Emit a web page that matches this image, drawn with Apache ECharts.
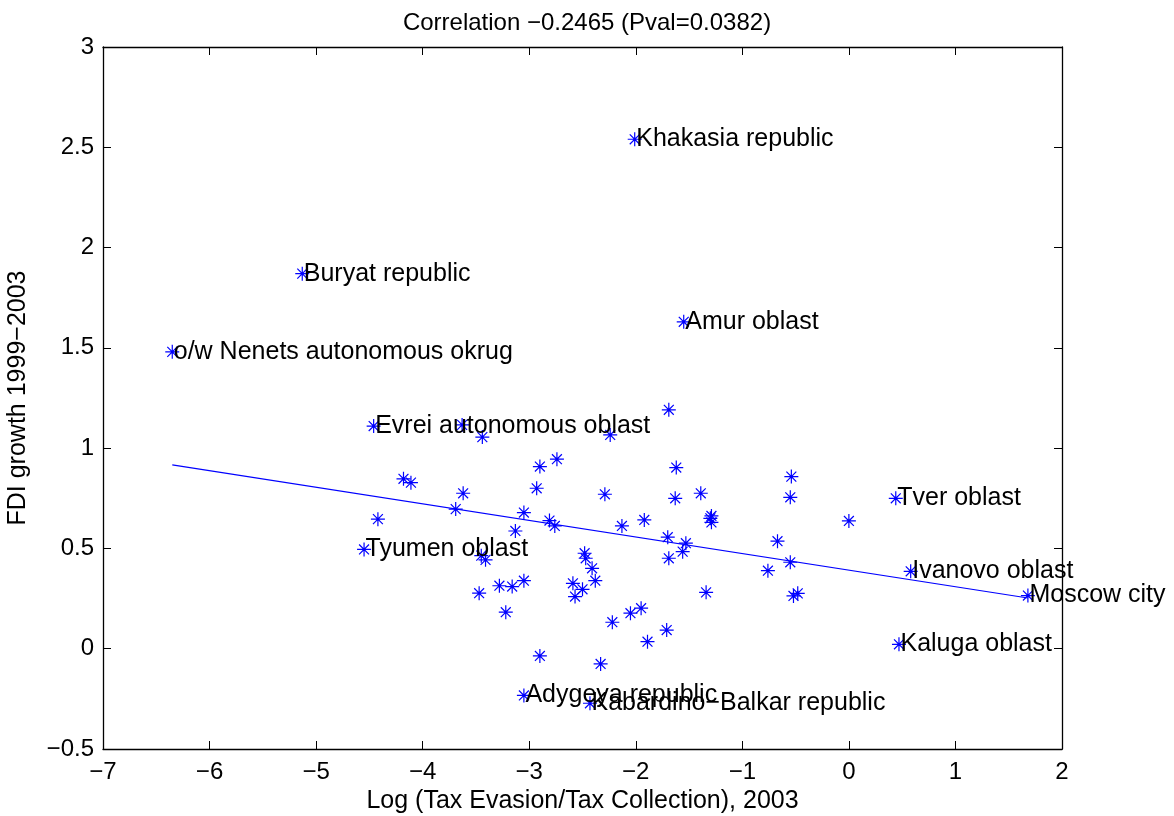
<!DOCTYPE html>
<html>
<head>
<meta charset="utf-8">
<script src="https://cdn.jsdelivr.net/npm/echarts@6/dist/echarts.min.js"></script>
<style>
	html, body { margin: 0; padding: 0; background: #fff; }
	#chart { width: 1174px; height: 816px; }
</style>
</head>
<body>
<div id="chart"></div>
<script>
// labelled regions
var labelNames = ['Khakasia republic', 'Buryat republic', 'Amur oblast', 'o/w Nenets autonomous okrug',
	'Evrei autonomous oblast', 'Tyumen oblast', 'Tver oblast', 'Ivanovo oblast', 'Moscow city',
	'Kaluga oblast', 'Adygeya republic', 'Kabardino\u2212Balkar republic'];
var labelX = [-2.01, -5.13, -1.55, -6.35, -4.46, -4.55, 0.44, 0.58, 1.68, 0.47, -3.05, -2.43];
var labelY = [2.54, 1.87, 1.63, 1.48, 1.11, 0.495, 0.75, 0.386, 0.265, 0.022, -0.233, -0.272];

// other regions
var otherX = [-3.63, -3.44, -2.24, -1.69, -2.90, -2.74, -1.62, -0.54, -4.18, -4.11,
	-3.62, -2.93, -2.29, -1.63, -1.39, -0.55, -3.69, -4.42, -3.05, -2.81,
	-2.76, -3.13, -2.13, -1.92, -1.29, -1.30, -1.29, 0.00, -1.70, -1.53,
	-1.56, -1.69, -0.67, -0.76, -0.55, -3.45, -3.41, -2.48, -2.47, -2.41,
	-2.38, -2.59, -2.50, -2.57, -3.05, -3.16, -3.28, -3.47, -3.22, -2.22,
	-2.05, -1.95, -1.89, -1.71, -1.34, -0.52, -0.48, -2.90, -2.33];
var otherY = [1.116, 1.055, 1.066, 1.191, 0.908, 0.945, 0.903, 0.858, 0.847, 0.828,
	0.775, 0.800, 0.770, 0.750, 0.775, 0.755, 0.696, 0.646, 0.679, 0.639,
	0.612, 0.587, 0.612, 0.642, 0.662, 0.650, 0.630, 0.637, 0.556, 0.526,
	0.484, 0.451, 0.536, 0.389, 0.431, 0.464, 0.443, 0.476, 0.451, 0.401,
	0.339, 0.326, 0.296, 0.260, 0.339, 0.310, 0.314, 0.277, 0.182, 0.132,
	0.177, 0.202, 0.035, 0.093, 0.281, 0.263, 0.276, -0.036, -0.076];

// fitted line end points
var fitX = [-6.35, 1.68];
var fitY = [0.917, 0.253];

var xTicks = [-7, 2, 1];
var yTicks = [-0.5, 3, 0.5];

var FONT = "'Liberation Sans', Arial, Helvetica, sans-serif";
var BLUE = '#0000ff';
var STAR = 'path://M0,-10L0,10M-10,0L10,0M-7.07,-7.07L7.07,7.07M-7.07,7.07L7.07,-7.07';

function minus(v){
	return String(v).replace('-', '\u2212');
}

var chart = echarts.init(document.getElementById('chart'));

var labelData = labelNames.map(function(n, i){
	return { name: n, value: [labelX[i], labelY[i]] };
});
var otherData = otherX.map(function(x, i){
	return [x, otherY[i]];
});

var axisCommon = {
	type: 'value',
	axisLine: { show: true, onZero: false, lineStyle: { color: '#000', width: 1.3 } },
	axisTick: { show: true, inside: true, length: 8, lineStyle: { color: '#000', width: 1 } },
	splitLine: { show: false }
};

var starStyle = { color: 'none', borderColor: BLUE, borderWidth: 1.2, opacity: 1 };

var option = {
	animation: false,
	backgroundColor: '#fff',
	textStyle: { fontFamily: FONT },
	title: {
		text: 'Correlation \u22120.2465 (Pval=0.0382)',
		left: 582,
		top: 6,
		textAlign: 'center',
		textStyle: { fontFamily: FONT, fontSize: 24, fontWeight: 'normal', color: '#000' }
	},
	grid: { left: 103, right: 112, top: 47, bottom: 67, outerBoundsMode: 'none', containLabel: false },
	xAxis: [
		Object.assign({}, axisCommon, {
			position: 'bottom',
			min: xTicks[0], max: xTicks[1], interval: xTicks[2],
			name: 'Log (Tax Evasion/Tax Collection), 2003',
			nameLocation: 'middle',
			nameGap: 38,
			nameTextStyle: { fontFamily: FONT, fontSize: 25, color: '#000' },
			axisLabel: { fontFamily: FONT, fontSize: 24, color: '#000', margin: 11, formatter: minus }
		}),
		Object.assign({}, axisCommon, {
			position: 'top',
			min: xTicks[0], max: xTicks[1], interval: xTicks[2],
			axisLabel: { show: false }
		})
	],
	yAxis: [
		Object.assign({}, axisCommon, {
			position: 'left',
			min: yTicks[0], max: yTicks[1], interval: yTicks[2],
			name: 'FDI growth 1999\u22122003',
			nameLocation: 'middle',
			nameGap: 72,
			nameTextStyle: { fontFamily: FONT, fontSize: 25, color: '#000' },
			axisLabel: { fontFamily: FONT, fontSize: 24, color: '#000', margin: 9, formatter: minus }
		}),
		Object.assign({}, axisCommon, {
			position: 'right',
			min: yTicks[0], max: yTicks[1], interval: yTicks[2],
			axisLabel: { show: false }
		})
	],
	series: [
		{
			type: 'line',
			data: fitX.map(function(x, i){ return [x, fitY[i]]; }),
			symbol: 'none',
			lineStyle: { color: BLUE, width: 1.2 },
			silent: true,
			z: 1
		},
		{
			type: 'scatter',
			data: otherData,
			symbol: STAR,
			symbolSize: 14,
			itemStyle: starStyle,
			z: 2
		},
		{
			type: 'scatter',
			data: labelData,
			symbol: STAR,
			symbolSize: 14,
			itemStyle: starStyle,
			label: {
				show: true,
				position: 'right',
				distance: -8,
				formatter: '{b}',
				fontFamily: FONT,
				fontSize: 25,
				color: '#000'
			},
			labelLayout: { hideOverlap: false },
			z: 3
		}
	]
};

chart.setOption(option);
</script>
</body>
</html>
